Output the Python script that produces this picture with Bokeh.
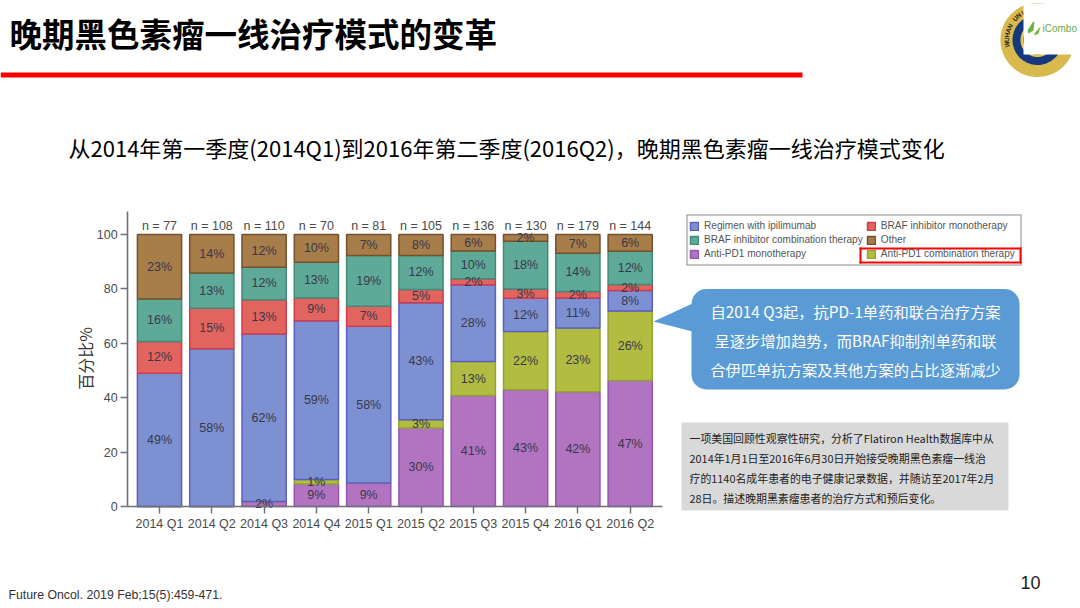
import numpy as np
from bokeh.embed import file_html
from bokeh.resources import INLINE
from bokeh.plotting import figure
from bokeh.models import (BoxAnnotation, ColumnDataSource, Label, Legend, LegendItem,
                          PolyAnnotation, Range1d, FixedTicker)
from bokeh.core.properties import value

quarters = ["2014 Q1", "2014 Q2", "2014 Q3", "2014 Q4", "2015 Q1", "2015 Q2", "2015 Q3", "2015 Q4", "2016 Q1", "2016 Q2"]
n_labels = ["n = 77", "n = 108", "n = 110", "n = 70", "n = 81", "n = 105", "n = 136", "n = 130", "n = 179", "n = 144"]

pd1_mono = [0, 0, 1.8, 8.3, 8.6, 28.9, 40.8, 42.9, 42.2, 46.3]
pd1_combo = [0, 0, 0, 1.6, 0, 3.0, 12.5, 21.4, 23.4, 25.6]
ipilimumab = [49.0, 58.0, 61.6, 58.4, 57.7, 43.0, 28.2, 12.3, 11.1, 7.5]
braf_mono = [11.7, 14.9, 12.6, 8.4, 7.3, 4.9, 2.2, 3.4, 2.3, 2.2]
braf_combo = [15.6, 12.9, 12.0, 13.1, 18.7, 12.5, 10.2, 17.5, 14.1, 12.2]
other = [23.7, 14.2, 12.0, 10.2, 7.7, 7.7, 6.1, 2.5, 6.9, 6.2]

pd1_mono_pct = ["", "", "2%", "9%", "9%", "30%", "41%", "43%", "42%", "47%"]
pd1_combo_pct = ["", "", "", "1%", "", "3%", "13%", "22%", "23%", "26%"]
ipilimumab_pct = ["49%", "58%", "62%", "59%", "58%", "43%", "28%", "12%", "11%", "8%"]
braf_mono_pct = ["12%", "15%", "13%", "9%", "7%", "5%", "2%", "3%", "2%", "2%"]
braf_combo_pct = ["16%", "13%", "12%", "13%", "19%", "12%", "10%", "18%", "14%", "12%"]
other_pct = ["23%", "14%", "12%", "10%", "7%", "8%", "6%", "2%", "7%", "6%"]

series_keys = ["pd1_mono", "pd1_combo", "ipilimumab", "braf_mono", "braf_combo", "other"]
series_names = ["Anti-PD1 monotherapy", "Anti-PD1 combination therapy", "Regimen with ipilimumab",
                "BRAF inhibitor monotherapy", "BRAF inhibitor combination therapy", "Other"]
fills = ["#b274c0", "#b1bc40", "#7d91d2", "#e2645f", "#5fa999", "#a77d4a"]
edges = ["#9455b2", "#93a434", "#5c5fc2", "#cf3c4c", "#3f8b79", "#75512c"]

title_text = "晚期黑色素瘤一线治疗模式的变革"
subtitle_text = "从2014年第一季度(2014Q1)到2016年第二季度(2016Q2)，晚期黑色素瘤一线治疗模式变化"
callout_lines = ["自2014 Q3起，抗PD-1单药和联合治疗方案", "呈逐步增加趋势，而BRAF抑制剂单药和联", "合伊匹单抗方案及其他方案的占比逐渐减少"]
note_lines = ["一项美国回顾性观察性研究，分析了Flatiron Health数据库中从",
              "2014年1月1日至2016年6月30日开始接受晚期黑色素瘤一线治",
              "疗的1140名成年患者的电子健康记录数据，并随访至2017年2月",
              "28日。描述晚期黑素瘤患者的治疗方式和预后变化。"]
footnote_text = "Future Oncol. 2019 Feb;15(5):459-471."
page_number = "10"

CJK = "Noto Sans CJK SC"
LAT = "Liberation Sans"
W, H = 1080, 608
X0, DX = 159.0, 52.3     # window x of the first bar's centre, and of one bar step
Y0, DY = 506.0, 2.72     # window y of value 0, and pixels per percent

xpos = list(range(len(quarters)))

p = figure(width=W, height=H, output_backend="svg", toolbar_location=None,
           x_range=Range1d(-X0 / DX, (W - X0) / DX),
           y_range=Range1d(-(H - Y0) / DY, Y0 / DY),
           min_border_left=0, min_border_right=0, min_border_top=0, min_border_bottom=0,
           x_axis_location="below", y_axis_location="left",
           outline_line_color=None, background_fill_color="white")
p.grid.visible = False

AX = "#70707a"
for ax in (p.xaxis[0], p.yaxis[0]):
    ax.axis_line_color = AX
    ax.axis_line_width = 1.6
    ax.major_tick_line_color = AX
    ax.major_tick_line_width = 1.4
    ax.major_tick_out = 7
    ax.major_tick_in = 0
    ax.minor_tick_line_color = None
    ax.major_label_text_font = LAT
    ax.major_label_text_font_size = "12.5px"
    ax.major_label_text_color = "#4a4a4a"
xa, ya = p.xaxis[0], p.yaxis[0]
xa.fixed_location = 0
xa.bounds = (-0.61, 9.62)
xa.major_label_standoff = 3
xa.ticker = FixedTicker(ticks=xpos)
xa.major_label_overrides = dict(zip(xpos, quarters))
ya.fixed_location = -0.61
ya.bounds = (0, 108.5)
ya.major_label_standoff = 3
ya.ticker = FixedTicker(ticks=[0, 20, 40, 60, 80, 100])

values = [pd1_mono, pd1_combo, ipilimumab, braf_mono, braf_combo, other]
pct = [pd1_mono_pct, pd1_combo_pct, ipilimumab_pct, braf_mono_pct, braf_combo_pct, other_pct]
src = ColumnDataSource({"q": xpos, **dict(zip(series_keys, values))})
rs = p.vbar_stack(series_keys, x="q", width=0.845, source=src, color=fills, line_color=edges, line_width=1.5)
rmap = dict(zip(series_names, rs))

# value labels, at the middle of each stack segment
lx, ly, lt = [], [], []
base = np.zeros(len(quarters))
for vals, txt in zip(values, pct):
    for i, (v, t) in enumerate(zip(vals, txt)):
        if t:
            lx.append(xpos[i]); ly.append(base[i] + v / 2); lt.append(t)
    base = base + np.array(vals)
p.text(x=lx, y=ly, text=lt, text_font=value(LAT), text_font_size="12.5px", text_color="#38384a",
       text_align="center", text_baseline="middle")
p.text(x=xpos, y=[103] * len(quarters), text=n_labels, text_font=value(LAT), text_font_size="12.5px",
       text_color="#4a4a4a", text_align="center", text_baseline="middle")


def lab(x, y, t, size, color="#000000", font=CJK, style="normal", align="left", angle=0):
    if font == CJK and angle == 0:
        y = y - size * 0.11   # this font sits low in its box
    p.add_layout(Label(x=x, y=y, text=t, x_units="canvas", y_units="canvas", text_font=font,
                       text_font_size=f"{size}px", text_font_style=style, text_color=color,
                       text_align=align, text_baseline="middle", angle=angle))


def box(l, r, t, b, fill, radius=0):
    p.add_layout(BoxAnnotation(left=l, right=r, top=t, bottom=b,
                               left_units="canvas", right_units="canvas", top_units="canvas", bottom_units="canvas",
                               fill_color=fill, fill_alpha=1, line_color=None, border_radius=radius))


def poly(xs, ys, fill):
    p.add_layout(PolyAnnotation(xs=list(xs), ys=list(ys),
                                xs_units="canvas", ys_units="canvas",
                                fill_color=fill, fill_alpha=1, line_color=None))


# header
lab(9, 36, title_text, 32.5, style="bold")
box(0, 802, 72, 77, "#ff0000")
lab(68, 149, subtitle_text, 22, color="#000000")
lab(84, 358, "百分比%", 16, color="#333333", align="center", angle=np.pi / 2)

# logo
th = np.linspace(0, 2 * np.pi, 90)
for r, c in [(37, "#d8b94e"), (25, "#17387f"), (17, "#e7c650"), (14.5, "#17387f")]:
    poly(1037 + r * np.cos(th), 39.5 + r * np.sin(th), c)
for ch, a in zip("WUHAN UNIC", np.linspace(172, 250, 10)):
    ar = np.radians(a)
    lab(1037 + 31 * np.cos(ar), 39.5 + 31 * np.sin(ar), ch, 6.5, color="#222222", font=LAT, style="bold",
        align="center", angle=np.radians(-(a + 90)) % (2 * np.pi))
box(1023, 1078, 3, 54, "#ffffff")
poly([1027, 1032, 1034, 1033, 1028], [30, 22, 21, 30, 33], "#6cb33f")
poly([1034, 1040, 1038, 1034], [33, 26, 33, 35], "#6cb33f")
lab(1042, 28, "iCombo", 10, color="#6aa84f", font=LAT)

# legend: its panel is drawn by hand under it, so the red frame can sit below its texts
box(686, 1021, 214, 265, "#8a8a92")
box(687, 1020, 215, 264, "#ffffff")
for l, r, t, b in [(859, 1021, 247, 249), (859, 1021, 261, 263), (859, 861, 247, 263), (1019, 1021, 247, 263)]:
    box(l, r, t, b, "#ff0000")
order = ["Regimen with ipilimumab", "BRAF inhibitor combination therapy", "Anti-PD1 monotherapy",
         "BRAF inhibitor monotherapy", "Other", "Anti-PD1 combination therapy"]
legend = Legend(items=[LegendItem(label=n, renderers=[rmap[n]]) for n in order],
                ncols=2, location=(689, H - 259.4), orientation="vertical",
                label_text_font=LAT, label_text_font_size="10.1px", label_text_color="#555555",
                glyph_width=10, glyph_height=10, label_height=10, label_standoff=5,
                spacing=3, margin=0, padding=3, border_line_color=None,
                background_fill_alpha=0)
p.add_layout(legend, "center")

# callout
poly([653, 692, 692], [321, 303, 331], "#5b9bd5")
box(691, 1019, 288.5, 389, "#5b9bd5", radius=15)
for y, t in zip([312, 341.5, 370], callout_lines):
    lab(855, y, t, 15.3, color="#ffffff", align="center")

# study note
box(681, 1008, 422, 510, "#d9d9d9")
for y, t in zip([438.3, 458.3, 478.3, 498.3], note_lines):
    lab(689, y, t, 10.9, color="#222222")

# footer
lab(8, 594, footnote_text, 12.3, color="#333333", font=LAT)
lab(1020, 582, page_number, 18, color="#222222", font=LAT)

open("out.html", "w").write(file_html(p, INLINE))
